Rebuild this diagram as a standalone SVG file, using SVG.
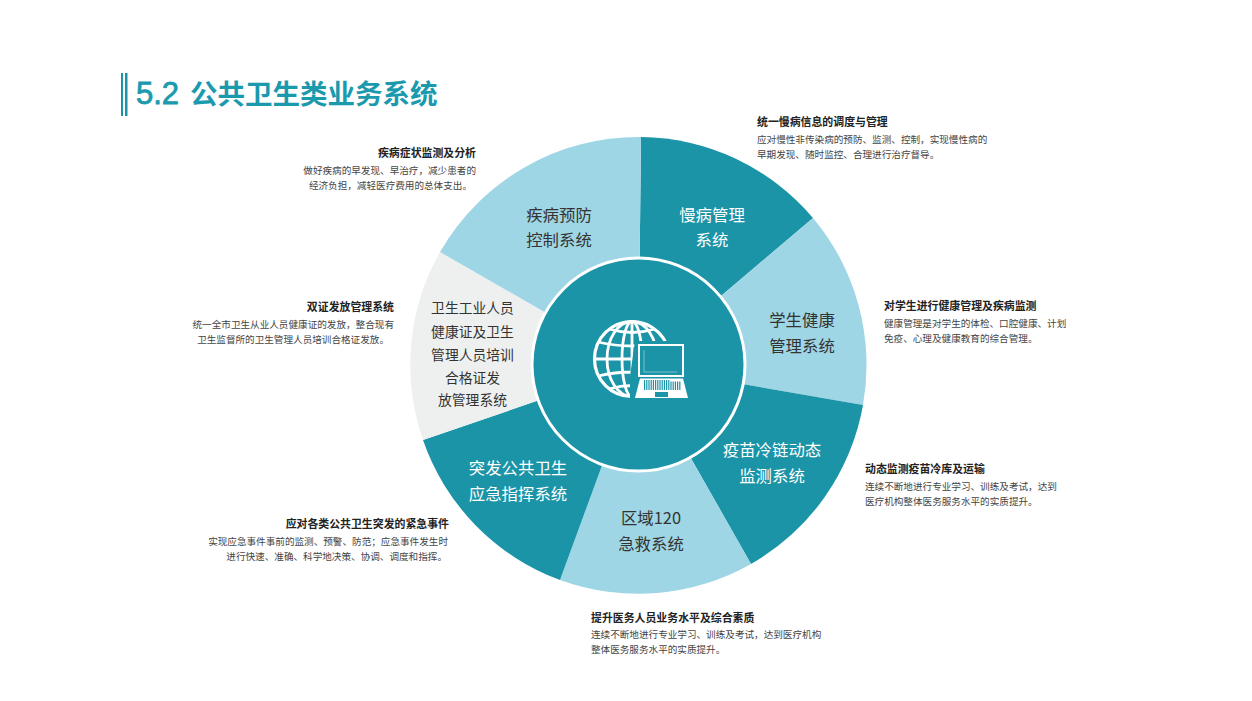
<svg xmlns="http://www.w3.org/2000/svg" width="1252" height="701" viewBox="0 0 1252 701">
<style>
text{font-family:"Noto Sans CJK SC","Noto Sans",sans-serif}
.d{fill:#1b94a7}.l{fill:#9fd6e5}.g{fill:#eef0ef}
.n{font-size:16.4px;fill:#fff;text-anchor:middle}
.nd{font-size:16.4px;fill:#333;text-anchor:middle}
.ns{font-size:13.8px;fill:#333;text-anchor:middle}
.t{font-size:10.9px;font-weight:700;fill:#222}
.b{font-size:9.6px;fill:#444}
.r{text-anchor:end}
.w{fill:none;stroke:#fff;stroke-width:2.8}
</style>
<rect width="1252" height="701" fill="#fff"/>
<g id="title">
<rect x="121" y="73" width="2" height="43" class="d"/><rect x="125" y="73" width="2.5" height="43" class="d"/>
<text x="136" y="104" font-size="31" fill="#1b9aae" stroke="#1b9aae" stroke-width=".8" style="font-family:'Liberation Sans',sans-serif">5.2</text>
<text x="190" y="104" font-size="27.5" font-weight="700" fill="#1b9aae">公共卫生类业务系统</text>
</g>
<g id="node-manbing"><path class="d" d="M638.500 366L641 137A228.500 228.500 0 0 1 813 218Z"/><text class="n" x="712" y="221">慢病管理</text><text class="n" x="712" y="246">系统</text>
<text class="t" x="757" y="126">统一慢病信息的调度与管理</text><text class="b" x="757" y="143">应对慢性非传染病的预防、监测、控制，实现慢性病的</text><text class="b" x="757" y="158">早期发现、随时监控、合理进行治疗督导。</text></g>
<g id="node-xuesheng"><path class="l" d="M638.500 366L813 218A228.500 228.500 0 0 1 863 405Z"/><text class="nd" x="802" y="326">学生健康</text><text class="nd" x="802" y="352">管理系统</text>
<text class="t" x="884" y="310">对学生进行健康管理及疾病监测</text><text class="b" x="884" y="327">健康管理是对学生的体检、口腔健康、计划</text><text class="b" x="884" y="342">免疫、心理及健康教育的综合管理。</text></g>
<g id="node-yimiao"><path class="d" d="M638.500 366L863 405A228.500 228.500 0 0 1 751 564Z"/><text class="n" x="772" y="456">疫苗冷链动态</text><text class="n" x="772" y="482">监测系统</text>
<text class="t" x="865" y="473">动态监测疫苗冷库及运输</text><text class="b" x="865" y="490">连续不断地进行专业学习、训练及考试，达到</text><text class="b" x="865" y="505">医疗机构整体医务服务水平的实质提升。</text></g>
<g id="node-quyu"><path class="l" d="M638.500 366L751 564A228.500 228.500 0 0 1 560 580Z"/><text class="nd" x="651" y="524">区域120</text><text class="nd" x="651" y="550">急救系统</text>
<text class="t" x="591" y="622">提升医务人员业务水平及综合素质</text><text class="b" x="591" y="638">连续不断地进行专业学习、训练及考试，达到医疗机构</text><text class="b" x="591" y="653">整体医务服务水平的实质提升。</text></g>
<g id="node-tufa"><path class="d" d="M638.500 366L560 580A228.500 228.500 0 0 1 423 440Z"/><text class="n" x="518" y="474">突发公共卫生</text><text class="n" x="518" y="500">应急指挥系统</text>
<text class="t r" x="449" y="528">应对各类公共卫生突发的紧急事件</text><text class="b r" x="448" y="545">实现应急事件事前的监测、预警、防范；应急事件发生时</text><text class="b r" x="447" y="560">进行快速、准确、科学地决策、协调、调度和指挥。</text></g>
<g id="node-weisheng"><path class="g" d="M638.500 366L423 440A228.500 228.500 0 0 1 440 252Z"/><text class="ns" x="472.500" y="313">卫生工业人员</text><text class="ns" x="472.500" y="337">健康证及卫生</text><text class="ns" x="472.500" y="360">管理人员培训</text><text class="ns" x="472.500" y="383">合格证发</text><text class="ns" x="472.500" y="405">放管理系统</text>
<text class="t r" x="394" y="311">双证发放管理系统</text><text class="b r" x="394" y="328">统一全市卫生从业人员健康证的发放，整合现有</text><text class="b r" x="389" y="343">卫生监督所的卫生管理人员培训合格证发放。</text></g>
<g id="node-jibing"><path class="l" d="M638.500 366L440 252A228.500 228.500 0 0 1 641 137Z"/><text class="nd" x="559" y="221">疾病预防</text><text class="nd" x="559" y="246">控制系统</text>
<text class="t r" x="476" y="157">疾病症状监测及分析</text><text class="b r" x="476" y="174">做好疾病的早发现、早治疗，减少患者的</text><text class="b r" x="472" y="189">经济负担，减轻医疗费用的总体支出。</text></g>
<g id="hub"><circle cx="638.500" cy="364.500" r="106.500" class="d" stroke="#fff" stroke-width="3"/>
<g id="icon">
<circle cx="632" cy="359" r="37.500" class="w" style="stroke-width:3.2"/>
<ellipse cx="632" cy="359" rx="25" ry="37.500" class="w"/><ellipse cx="632" cy="359" rx="10" ry="37.500" class="w"/>
<path class="w" d="M632 321V397M594 359H670M598 342Q632 350 666 342M598 376Q632 368 666 376M609 329Q632 336 655 329M609 389Q632 382 655 389"/>
<path fill="#1b94a7" d="M635 341H692V402H630V376Z"/>
<rect x="639" y="345" width="44" height="31" fill="#1b94a7" stroke="#fff" stroke-width="2"/>
<path d="M644 372H677M644 372V350" fill="none" stroke="#fff" stroke-width=".8" opacity=".5"/>
<path fill="#fff" d="M640 378.500H683L688 398H635Z"/>
<path d="M644 385H681" fill="none" stroke="#1b94a7" stroke-width="10" stroke-dasharray="1.200 1"/>
<path d="M670 380.500H682" fill="none" stroke="#fff" stroke-width="2"/>
<rect x="655" y="392" width="13" height="5" fill="#1b94a7"/>
</g></g>
<g id="connectors"/>
</svg>
